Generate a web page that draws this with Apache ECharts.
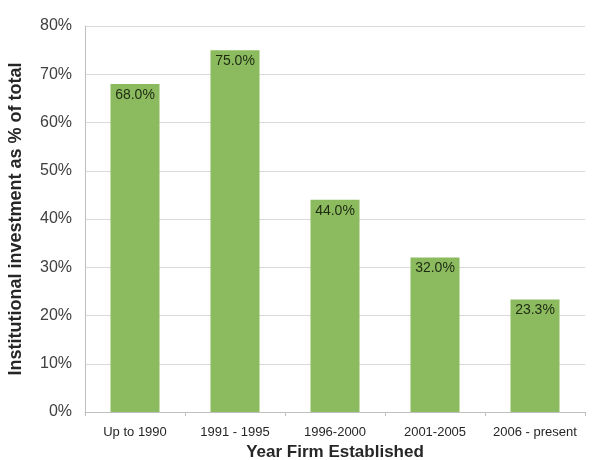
<!DOCTYPE html>
<html>
<head>
<meta charset="utf-8">
<script src="https://cdn.jsdelivr.net/npm/echarts@6/dist/echarts.min.js"></script>
<style>
  html, body { margin: 0; padding: 0; background: #fff; }
  #main { width: 607px; height: 460px; }
</style>
</head>
<body>
<div id="main"></div>
<script>
var categories = ['Up to 1990', '1991 - 1995', '1996-2000', '2001-2005', '2006 - present'];
var shares = [68.0, 75.0, 44.0, 32.0, 23.3];
var yTicks = [0, 10, 20, 30, 40, 50, 60, 70, 80];

var myChart = echarts.init(document.getElementById('main'));
var option = {
    animation: false,
    grid: { left: 85, right: 22, top: 26, bottom: 48, outerBoundsMode: 'none' },
    xAxis: {
        type: 'category',
        data: categories,
        name: 'Year Firm Established',
        nameLocation: 'middle',
        nameGap: 27,
        nameTextStyle: { fontFamily: 'Liberation Sans', fontWeight: 'bold', fontSize: 17, color: '#262626' },
        axisLine: { lineStyle: { color: '#bfbfbf' } },
        axisTick: { show: true, length: 4, lineStyle: { color: '#bfbfbf' } },
        axisLabel: { interval: 0, fontFamily: 'Liberation Sans', fontSize: 13, color: '#262626', margin: 14 }
    },
    yAxis: {
        type: 'value',
        min: yTicks[0],
        max: yTicks[yTicks.length - 1],
        interval: 10,
        name: 'Institutional investment as % of total',
        nameLocation: 'middle',
        nameGap: 60,
        nameTextStyle: { fontFamily: 'Liberation Sans', fontWeight: 'bold', fontSize: 18, color: '#262626' },
        axisLine: { show: true, lineStyle: { color: '#bfbfbf' } },
        axisTick: { show: false },
        splitLine: { lineStyle: { color: '#d9d9d9' } },
        axisLabel: {
            fontFamily: 'Liberation Sans', fontSize: 16, color: '#404040', margin: 13,
            formatter: function (v) { return v + '%'; }
        }
    },
    series: [{
        type: 'bar',
        data: shares,
        barWidth: 49,
        itemStyle: { color: '#8cbb5f' },
        label: {
            show: true,
            position: 'insideTop',
            distance: 4,
            fontFamily: 'Liberation Sans',
            fontSize: 14,
            color: '#1e2a12',
            formatter: function (p) { return p.value.toFixed(1) + '%'; }
        }
    }]
};
myChart.setOption(option);
</script>
</body>
</html>
